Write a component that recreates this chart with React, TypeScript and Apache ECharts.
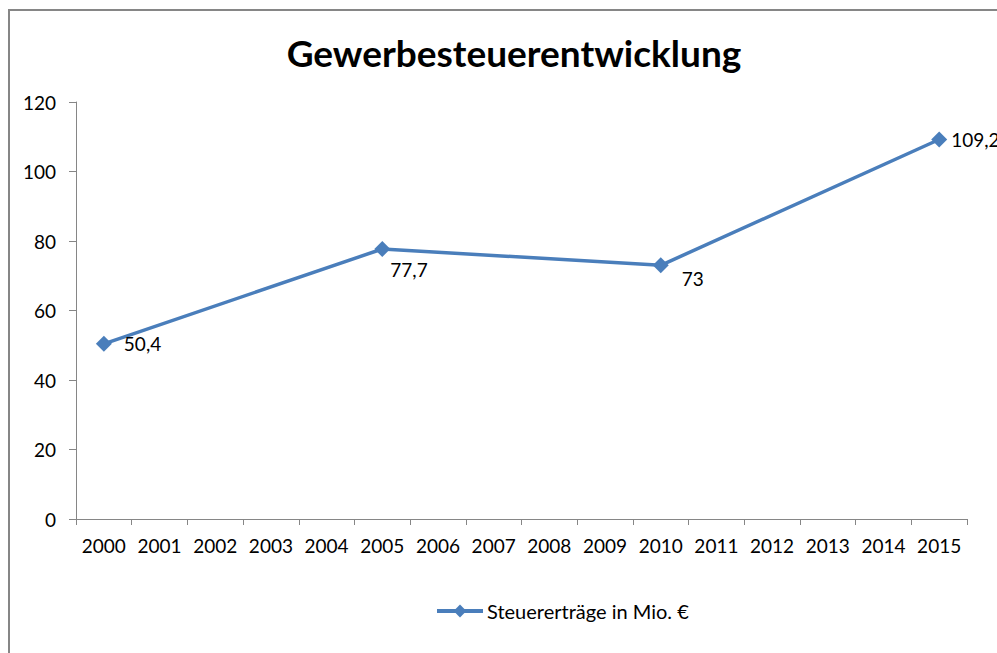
import React, { useEffect, useRef } from "react";
import * as echarts from "echarts";

const years = ["2000","2001","2002","2003","2004","2005","2006","2007","2008","2009","2010","2011","2012","2013","2014","2015"];
const values: (number | null)[] = [50.4, null, null, null, null, 77.7, null, null, null, null, 73, null, null, null, null, 109.2];
const titleText = "Gewerbesteuerentwicklung";
const seriesName = "Steuererträge in Mio. €";

const FONT = "Lato, 'Open Sans', sans-serif";
const BLUE = "#4A7EBB";
const AXIS = "#868686";

export default function App() {
  const ref = useRef<HTMLDivElement>(null);
  useEffect(() => {
    if (!ref.current) return;
    const chart = echarts.init(ref.current, null, { renderer: "svg" });
    const offsets: Record<number, number[]> = { 0: [7, 0], 5: [-5, 21], 10: [8, 13], 15: [-1, 0] };
    const data = values.map((v, i) =>
      v == null
        ? null
        : {
            value: v,
            label: { show: true, position: "right", offset: offsets[i] || [0, 0] },
          }
    );
    chart.setOption({
      animation: false,
      backgroundColor: "#fff",
      textStyle: { fontFamily: FONT },
      title: {
        text: titleText,
        top: 29,
        left: 509,
        textAlign: "center",
        textStyle: { fontFamily: FONT, fontWeight: "bold", fontSize: 37, color: "#000" },
      },
      legend: {
        bottom: 27,
        left: 430,
        itemWidth: 46,
        itemHeight: 16,
        itemGap: 4,
        lineStyle: { width: 4 },
        textStyle: { fontFamily: FONT, fontSize: 20, color: "#000", padding: [0, 0, 0, -1] },
        data: [{ name: seriesName }],
      },
      graphic: [
        {
          type: "rect",
          shape: { x: 9, y: 10, width: 1200, height: 900 },
          style: { fill: "none", stroke: AXIS, lineWidth: 2 },
          silent: true,
        },
      ],
      grid: { left: 76, top: 102, right: 30, bottom: 134, containLabel: false },
      xAxis: {
        type: "category",
        data: years,
        boundaryGap: true,
        axisLine: { lineStyle: { color: AXIS, width: 1 } },
        axisTick: { show: true, length: 6, interval: 0, lineStyle: { color: AXIS } },
        axisLabel: { interval: 0, margin: 17, fontSize: 19, color: "#000", fontFamily: FONT },
        splitLine: { show: false },
      },
      yAxis: {
        type: "value",
        min: 0,
        max: 120,
        interval: 20,
        axisLine: { show: true, lineStyle: { color: AXIS, width: 1 } },
        axisTick: { show: true, length: 7, lineStyle: { color: AXIS } },
        axisLabel: { margin: 20, fontSize: 19, color: "#000", fontFamily: FONT },
        splitLine: { show: false },
      },
      series: [
        {
          name: seriesName,
          type: "line",
          data,
          connectNulls: true,
          symbol: "diamond",
          symbolSize: 16,
          showAllSymbol: true,
          lineStyle: { color: BLUE, width: 3.5 },
          itemStyle: { color: BLUE },
          label: {
            show: true,
            position: "right",
            fontSize: 19,
            color: "#000",
            fontFamily: FONT,
            formatter: (p: any) => String(p.value).replace(".", ","),
          },
        },
      ],
    });
    return () => chart.dispose();
  }, []);
  return (
    <div
      ref={ref}
      style={{ position: "absolute", left: 0, top: 0, width: 997, height: 653 }}
    />
  );
}
